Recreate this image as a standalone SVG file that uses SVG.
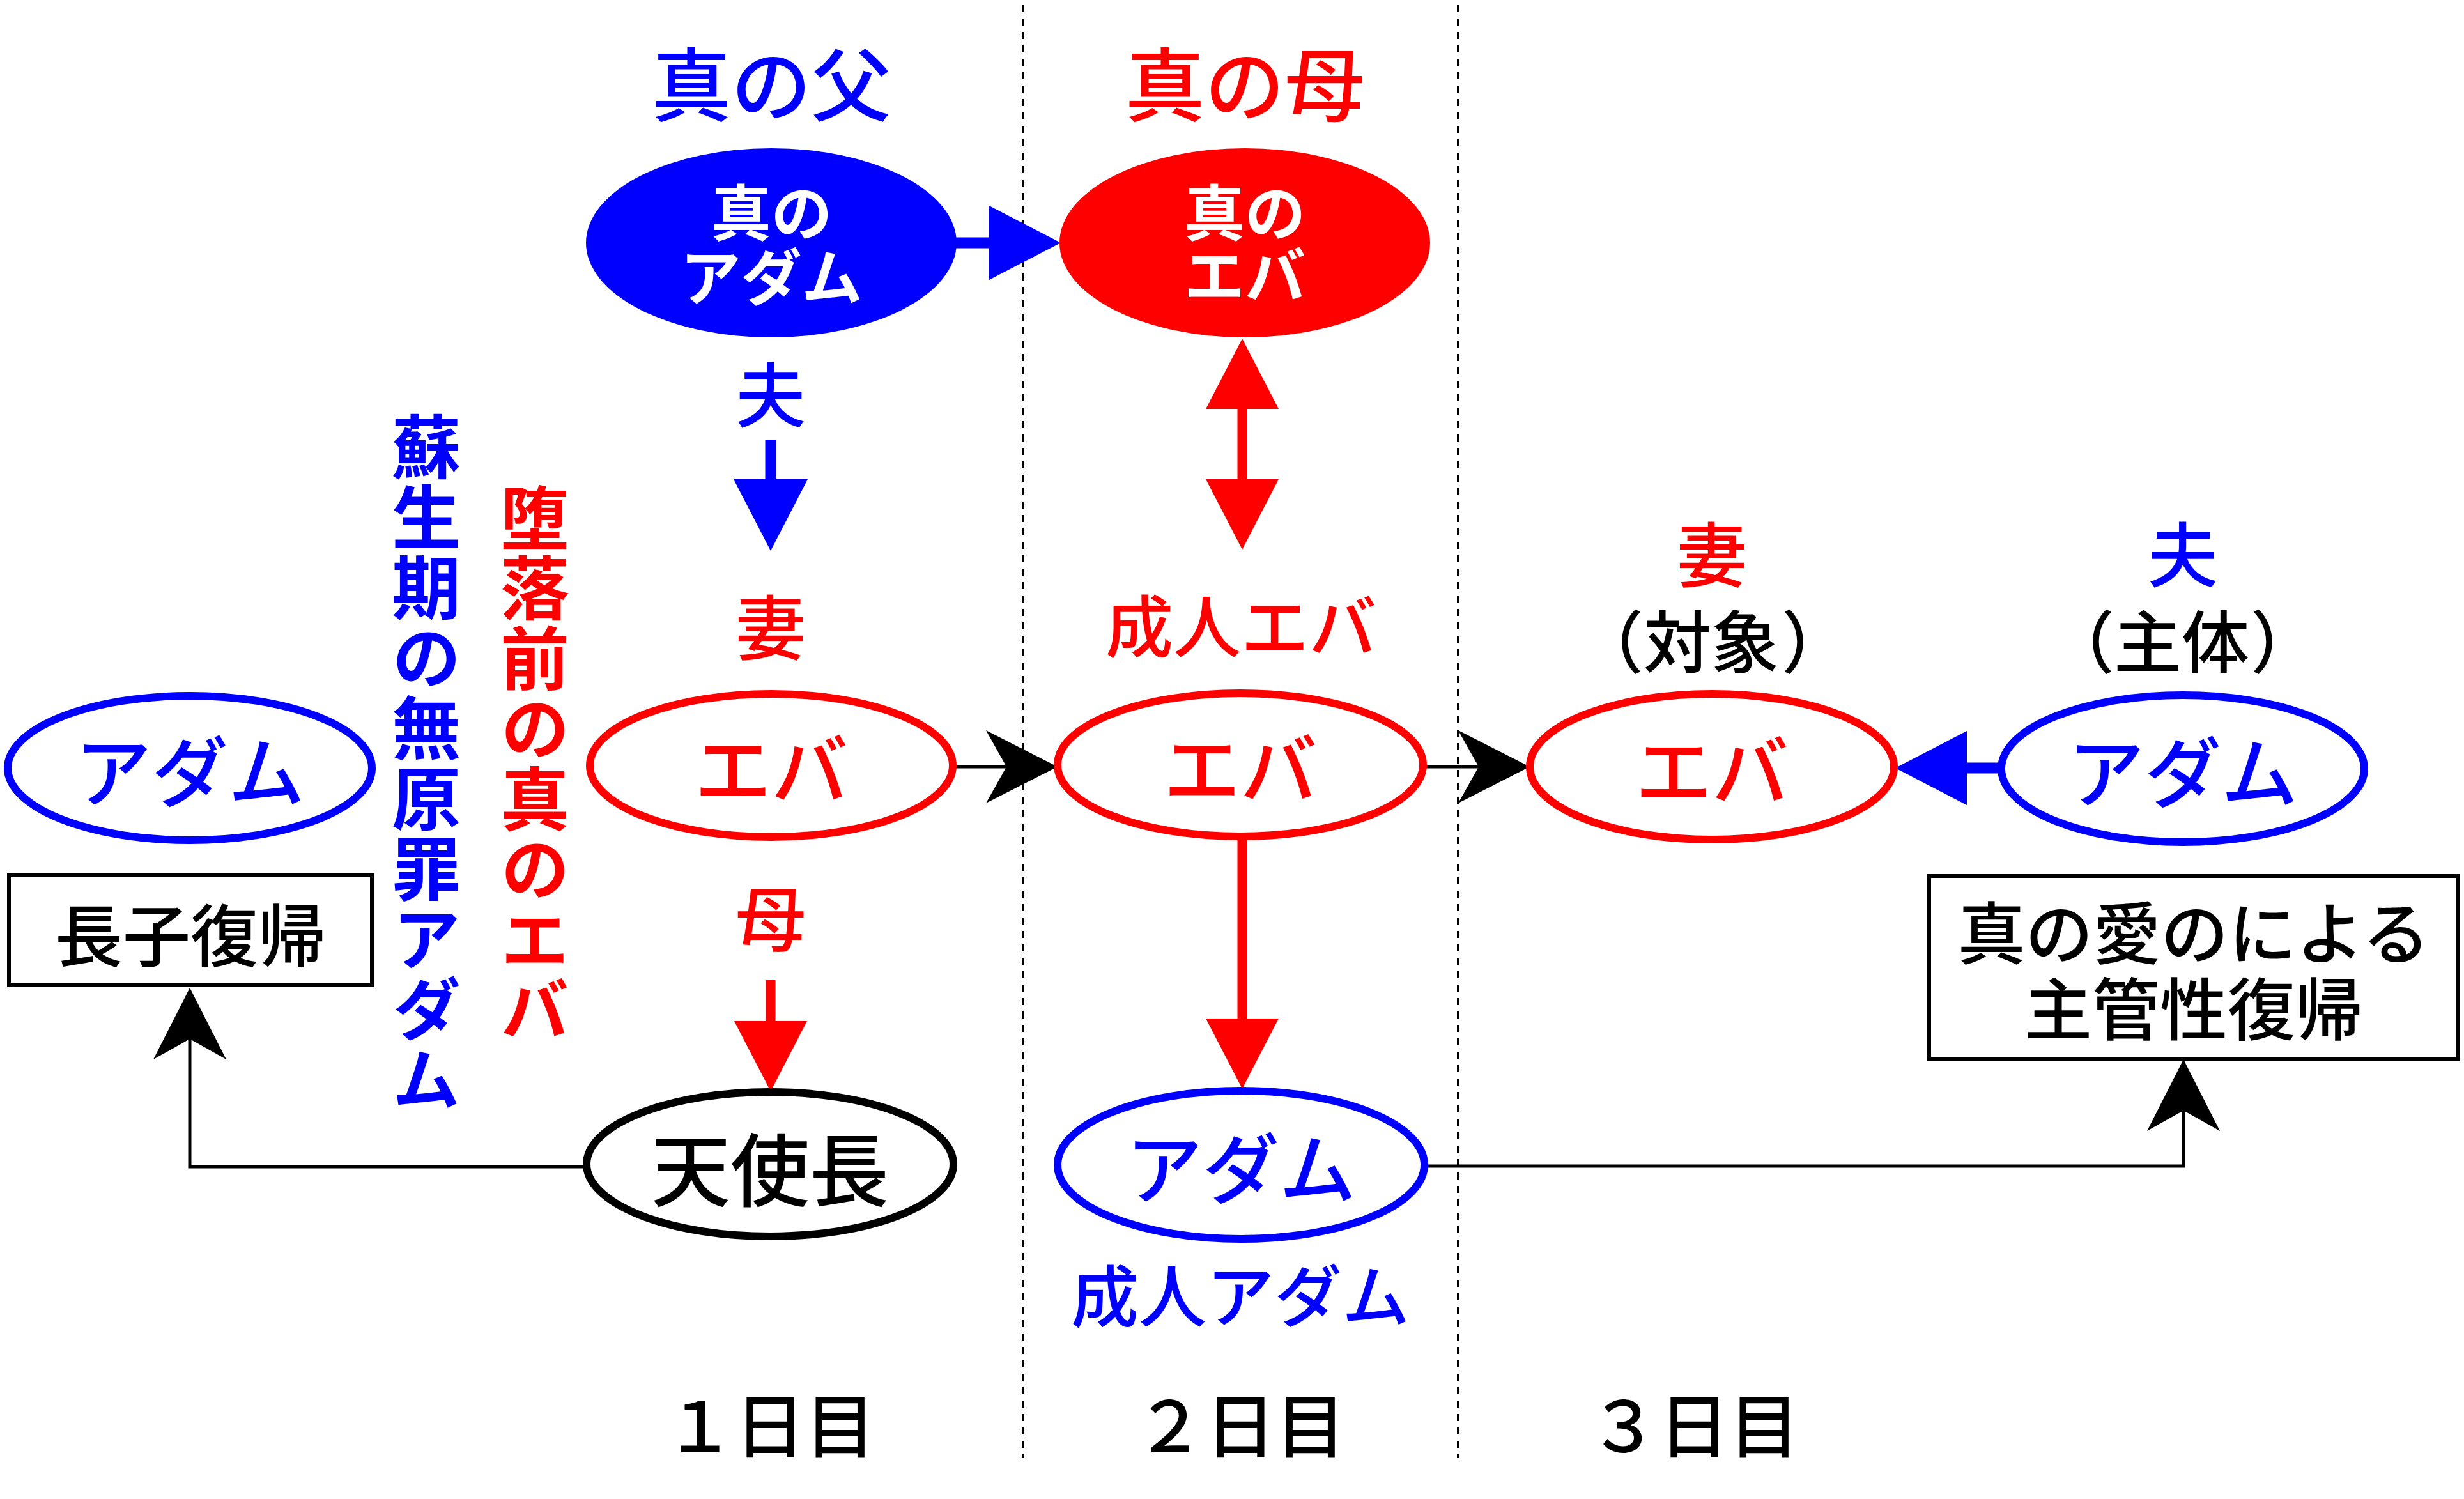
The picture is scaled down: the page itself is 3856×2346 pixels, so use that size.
<svg xmlns="http://www.w3.org/2000/svg" width="3856" height="2346" viewBox="0 0 3856 2346">
<style>
text{font-family:"Noto Sans CJK JP","Noto Sans CJK SC",sans-serif;text-anchor:middle;dominant-baseline:central;font-weight:500}
.b{fill:#0000FF}.r{fill:#FF0000}.k{fill:#000}.w{fill:#fff;font-weight:700}
.t{font-size:125px}.l{font-size:120px}.m{font-size:110px}.s{font-size:106px}
.p{text-anchor:start}
.v{font-size:108px;font-weight:700;writing-mode:vertical-rl;text-anchor:start;letter-spacing:2px}
.eb{fill:#fff;stroke:#0000FF;stroke-width:12}
.er{fill:#fff;stroke:#FF0000;stroke-width:12}
.ek{fill:#fff;stroke:#000;stroke-width:12}
.box{fill:#fff;stroke:#000;stroke-width:6}
.thin{fill:none;stroke:#000;stroke-width:5}
.thb{fill:none;stroke:#0000FF;stroke-width:17}
.thr{fill:none;stroke:#FF0000;stroke-width:15}
.dot{stroke:#000;stroke-width:4;stroke-dasharray:11 10}
</style>
<defs>
<marker id="triB" markerUnits="userSpaceOnUse" viewBox="0 -60 116 120" refX="0" refY="0" markerWidth="116" markerHeight="120" orient="auto" overflow="visible"><path d="M0,-58L112,0L0,58Z" fill="#0000FF"/></marker>
<marker id="triR" markerUnits="userSpaceOnUse" viewBox="0 -60 116 120" refX="0" refY="0" markerWidth="116" markerHeight="120" orient="auto-start-reverse" overflow="visible"><path d="M0,-57L110,0L0,57Z" fill="#FF0000"/></marker>
<marker id="stealth" markerUnits="userSpaceOnUse" viewBox="-34 -60 116 120" refX="0" refY="0" markerWidth="116" markerHeight="120" orient="auto" overflow="visible"><path d="M0,0L-32,-57L80,0L-32,57Z" fill="#000"/></marker>
</defs>
<rect width="3856" height="2346" fill="#fff"/>
<g id="dividers">
<line class="dot" x1="1601" y1="8" x2="1601" y2="2282"/>
<line class="dot" x1="2282" y1="8" x2="2282" y2="2282"/>
</g>
<g id="connectors">
<line class="thb" x1="1494" y1="380" x2="1548" y2="380" marker-end="url(#triB)"/>
<line class="thb" x1="1206" y1="688" x2="1206" y2="750" marker-end="url(#triB)"/>
<line class="thr" x1="1944" y1="640" x2="1944" y2="750" marker-start="url(#triR)" marker-end="url(#triR)"/>
<line class="thr" x1="1206" y1="1534" x2="1206" y2="1598" marker-end="url(#triR)"/>
<line class="thr" x1="1944" y1="1307" x2="1944" y2="1594" marker-end="url(#triR)"/>
<line class="thin" x1="1492" y1="1200" x2="1575" y2="1200" marker-end="url(#stealth)"/>
<line class="thin" x1="2229" y1="1200" x2="2314" y2="1200" marker-end="url(#stealth)"/>
<line class="thb" x1="3134" y1="1202" x2="3078" y2="1202" marker-end="url(#triB)"/>
<polyline class="thin" points="918,1826 297,1826 297,1626" marker-end="url(#stealth)"/>
<polyline class="thin" points="2229,1825 3417,1825 3417,1738" marker-end="url(#stealth)"/>
</g>
<g id="title-father"><text class="b t" x="1207" y="125">真の父</text></g>
<g id="title-mother"><text class="r t" x="1948" y="125">真の母</text></g>
<g id="true-adam">
<ellipse cx="1207" cy="380" rx="290" ry="148" fill="#0000FF"/>
<text class="w" font-size="95"><tspan x="1207" y="327">真の</tspan><tspan x="1207" y="428">アダム</tspan></text>
</g>
<g id="true-eve">
<ellipse cx="1948" cy="380" rx="290" ry="148" fill="#FF0000"/>
<text class="w" font-size="95"><tspan x="1948" y="327">真の</tspan><tspan x="1948" y="425">エバ</tspan></text>
</g>
<g id="label-husband1"><text class="b m" x="1206" y="612">夫</text></g>
<g id="label-wife1"><text class="r m" x="1206" y="976">妻</text></g>
<g id="label-adult-eve"><text class="r s" x="1942" y="974">成人エバ</text></g>
<g id="label-mother"><text class="r m" x="1206" y="1432">母</text></g>
<g id="label-wife3"><text class="r m" x="2679" y="862">妻</text></g>
<g id="label-object"><text class="k s p" y="998"><tspan x="2466">（</tspan><tspan x="2572">対象</tspan><tspan x="2788">）</tspan></text></g>
<g id="label-husband3"><text class="b m" x="3416" y="862">夫</text></g>
<g id="label-subject"><text class="k s p" y="998"><tspan x="3203">（</tspan><tspan x="3308">主体</tspan><tspan x="3522">）</tspan></text></g>
<g id="adam-left">
<ellipse class="eb" cx="297" cy="1202" rx="285" ry="113"/>
<text class="b l" x="297" y="1202">アダム</text>
</g>
<g id="eve-day1">
<ellipse class="er" cx="1207" cy="1198" rx="284" ry="112"/>
<text class="r l" x="1207" y="1198">エバ</text>
</g>
<g id="eve-day2">
<ellipse class="er" cx="1941" cy="1197" rx="286" ry="112"/>
<text class="r l" x="1941" y="1197">エバ</text>
</g>
<g id="eve-day3">
<ellipse class="er" cx="2679" cy="1200" rx="285" ry="114"/>
<text class="r l" x="2679" y="1200">エバ</text>
</g>
<g id="adam-right">
<ellipse class="eb" cx="3416" cy="1203" rx="284" ry="115"/>
<text class="b l" x="3416" y="1203">アダム</text>
</g>
<g id="vertical-adam">
<text class="b v" x="667" y="645">蘇生期の無原罪アダム</text>
</g>
<g id="vertical-eve">
<text class="r v" x="837" y="756">堕落前の真のエバ</text>
</g>
<g id="box-firstborn">
<rect class="box" x="14" y="1370" width="568" height="172"/>
<text class="k s" x="298" y="1458">長子復帰</text>
</g>
<g id="archangel">
<ellipse class="ek" cx="1205" cy="1822" rx="287" ry="113"/>
<text class="k" font-size="124" x="1205" y="1824">天使長</text>
</g>
<g id="adam-day2">
<ellipse class="eb" cx="1942" cy="1823" rx="287" ry="116"/>
<text class="b l" x="1942" y="1823">アダム</text>
</g>
<g id="label-adult-adam"><text class="b s" x="1941" y="2022">成人アダム</text></g>
<g id="box-dominion">
<rect class="box" x="3019" y="1371" width="828" height="286"/>
<text class="k s"><tspan x="3433" y="1454">真の愛のによる</tspan><tspan x="3433" y="1573">主管性復帰</tspan></text>
</g>
<g id="day-labels">
<text class="k m" x="1205" y="2225">１日目</text>
<text class="k m" x="1941" y="2225">２日目</text>
<text class="k m" x="2651" y="2225">３日目</text>
</g>
</svg>
